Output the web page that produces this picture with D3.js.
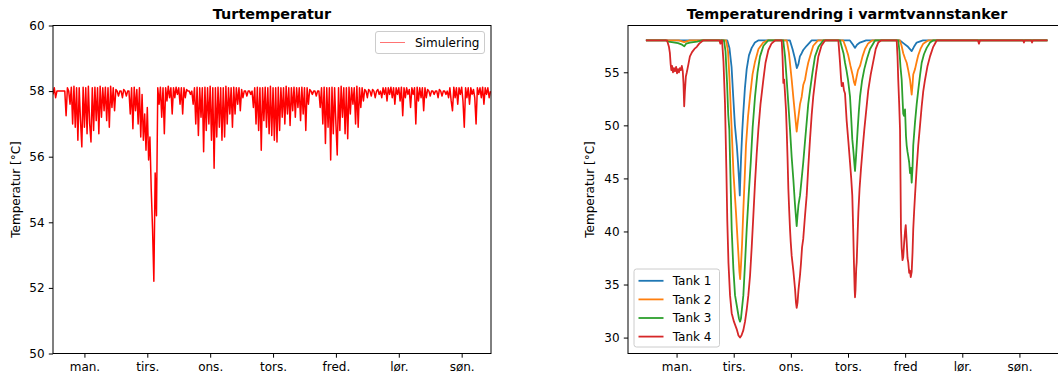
<!DOCTYPE html>
<html><head><meta charset="utf-8">
<script src="https://cdn.jsdelivr.net/npm/d3@7"></script>
<style>
html,body{margin:0;padding:0;background:#fff;}
svg{display:block;font-family:"DejaVu Sans",sans-serif;}
</style></head><body>
<svg id="chart" width="1058" height="379"></svg>
<script>
// Weekday ticks (hours from Monday 00:00, placed at noon)
const dayTicks = [12, 36, 60, 84, 108, 132, 156];
const dayLabelsLeft = ["man.", "tirs.", "ons.", "tors.", "fred.", "lør.", "søn."];
const dayLabelsRight = ["man.", "tirs.", "ons.", "tors.", "fred", "lør.", "søn."];
const turTicks = [50, 52, 54, 56, 58, 60];
const tankTicks = [30, 35, 40, 45, 50, 55];

// Supply temperature, one reading every half hour from hour 0
const turStep = 0.5;
const turTemp = [
  57.9,58.1,57.8,58.0,58.0,58.0,58.0,58.0,58.0,58.0,
  57.25,58.1,58.0,57.6,58.12,57.0,58.15,56.9,58.1,56.5,
  58.1,57.1,56.3,58.12,56.9,58.1,56.7,58.15,57.0,56.45,
  58.1,56.8,58.12,57.1,58.1,56.7,58.15,57.2,58.1,57.4,
  58.12,57.1,58.1,56.9,58.15,57.5,58.1,57.4,58.05,58.0,
  57.85,58.0,58.0,57.8,58.05,58.0,57.85,58.0,58.0,57.3,
  58.1,56.85,58.12,57.4,58.05,57.0,58.1,56.6,57.9,56.5,
  57.3,56.2,57.5,55.9,56.6,55.0,53.8,52.2,55.5,54.2,
  58.1,57.6,58.12,57.2,58.1,56.7,58.1,57.7,58.15,57.8,
  58.1,57.3,58.1,57.8,58.12,57.9,58.1,57.6,58.1,57.3,
  58.1,57.8,58.05,58.0,58.0,57.9,58.0,57.6,58.1,57.0,
  58.12,56.65,58.1,57.2,58.1,56.15,58.12,56.8,58.1,57.0,
  58.15,56.5,58.1,55.65,58.1,56.6,58.12,56.9,58.1,56.5,
  58.1,56.6,58.15,57.0,58.1,57.3,58.1,56.9,58.12,57.3,
  58.1,57.6,58.1,57.4,58.05,57.8,58.0,58.0,57.85,58.0,
  58.0,57.9,58.0,57.5,58.1,57.0,58.12,56.8,58.1,56.2,
  58.1,57.1,58.12,56.9,58.1,56.7,58.15,56.65,58.1,56.5,
  58.1,56.45,58.12,56.8,58.1,57.2,58.1,57.0,58.15,57.3,
  58.1,56.95,58.1,57.4,58.12,57.2,58.1,57.5,58.1,57.1,
  58.12,57.3,58.1,56.8,58.1,57.6,58.05,58.0,57.9,58.0,
  58.0,57.85,58.0,58.0,57.5,58.1,57.0,58.12,56.4,58.1,
  56.9,58.1,55.9,58.12,56.7,58.1,57.0,56.05,58.1,56.8,
  58.15,57.2,58.1,56.7,58.1,56.55,58.12,57.3,58.1,57.6,
  58.1,57.0,58.15,56.9,58.1,57.5,58.1,57.7,58.05,58.0,
  57.8,58.05,58.0,57.85,58.05,58.0,57.8,58.0,58.05,57.9,
  58.0,57.8,58.1,57.9,58.1,57.7,58.1,57.9,58.12,57.8,
  58.1,57.6,58.1,57.9,58.1,57.7,58.12,57.25,58.1,57.8,
  58.1,57.9,58.05,57.5,58.1,57.9,58.1,57.0,58.12,57.7,
  58.1,57.8,58.1,57.4,58.1,57.8,58.05,58.0,57.85,58.0,
  58.0,57.9,58.0,58.0,57.8,58.05,58.0,57.85,58.0,58.0,
  57.9,58.0,57.8,58.1,57.7,57.4,58.12,57.8,58.1,57.6,
  58.1,57.9,58.12,57.7,56.9,58.1,57.8,58.1,57.6,58.1,
  57.9,58.05,57.8,57.0,58.1,57.9,58.1,57.8,58.12,57.6,
  58.1,57.9,58.1,57.8,58.0
];

// Tank temperatures: [hour, °C]
const tank1 = [
  [-0.5,58],[33.3,58],[34.2,57.3],[35.1,55.5],[35.8,52.7],[36.5,50],[37.3,48.1],[37.8,46.5],[38.2,45],[38.55,43.4],[38.85,45.5],[39.1,47],[39.6,49.5],[40.0,51.1],[40.7,53.5],[41.45,55.3],[42.4,56.6],[43.55,57.3],[44.9,57.8],[46.3,58],
  [59.6,58],[60.7,57.2],[61.7,56.3],[62.5,55.4],[63.2,55.8],[63.8,56.5],[64.55,56.8],[65.2,57.1],[66.65,57.5],[68.75,58],
  [84.8,58],[86.1,57.6],[86.9,57.3],[87.8,57.6],[89.0,57.8],[91.6,58],
  [105.8,58],[107.5,57.7],[109.2,57.4],[110.75,57.0],[111.7,57.4],[112.85,57.8],[115.5,58],[167.4,58]
];
const tank2 = [
  [-0.5,58],[13.0,58],[15.2,57.85],[17.5,58],
  [32.8,58],[33.6,57],[34.2,54.5],[35.15,49.6],[35.9,45.5],[36.95,41.8],[37.8,38.5],[38.4,36.2],[38.7,35.5],[39.05,36.8],[39.5,38.8],[40.0,41.8],[40.6,45],[41.15,48.1],[42.0,50.8],[42.85,52.7],[43.9,54.8],[44.95,56],[46.4,57.2],[48.4,57.8],[50.0,58],
  [58.3,58],[59.2,56.8],[60.35,54.3],[61.1,52.5],[61.75,51],[62.45,49.4],[63.0,50.5],[63.85,52],[64.55,52.7],[65.2,53.8],[65.95,54.3],[66.65,55.2],[67.3,55.9],[68.45,56.8],[69.4,57.5],[71.4,58],
  [82.0,58],[83.15,57.3],[84.1,56.6],[85.05,55.6],[85.9,54.8],[86.5,54.1],[86.95,53.8],[87.55,54.5],[88.2,55.2],[89.05,55.6],[90.1,56.5],[91.15,57.2],[92.4,57.7],[94.1,58],
  [105.8,58],[106.5,57.5],[107.2,56.8],[107.95,56.3],[108.65,55.9],[109.3,55.2],[110.05,54.3],[110.45,53.5],[110.75,52.9],[111.1,53.8],[111.4,54.8],[112.15,55.3],[112.85,56],[113.5,56.6],[114.45,57.2],[115.6,57.7],[117.6,58],[167.4,58]
];
const tank3 = [
  [-0.5,58],[7.5,58],[8.5,57.9],[10.0,57.85],[12.6,57.75],[14.3,57.6],[15.25,57.45],[16.0,57.7],[17.6,57.8],[20.6,57.9],[22.7,58],
  [31.9,58],[32.55,57],[33.2,54],[33.7,51],[34.15,49.6],[34.65,45],[35.15,40.2],[35.85,36.5],[36.55,34],[37.6,32.6],[38.2,31.8],[38.65,31.5],[39.05,31.8],[39.5,32.8],[40.05,34],[40.75,37],[41.45,40.2],[42.3,43.5],[43.15,46.5],[43.95,49.8],[44.95,52.7],[46.0,55],[47.05,56.5],[48.5,57.5],[50.5,58],
  [56.8,58],[57.55,56.5],[58.25,54.3],[58.95,52],[59.65,49.6],[60.35,47],[61.05,44.9],[61.75,42.5],[62.45,40.5],[62.8,41.5],[63.2,42.5],[63.85,43.4],[64.55,45],[65.2,46.5],[65.95,48.5],[66.65,50.3],[67.3,52],[68.05,53.3],[69.1,55],[70.15,56.5],[71.6,57.4],[73.6,58],
  [80.65,58],[81.5,57.3],[82.1,56.8],[82.75,55.9],[83.35,55.2],[84.0,54.3],[84.85,52.7],[85.35,50.7],[85.8,48.7],[86.3,47.5],[86.75,46.2],[86.95,45.7],[87.35,47],[88.05,49.6],[88.55,51.3],[89.05,52.7],[89.9,54.2],[90.85,55.3],[92.0,56.3],[93.25,57.2],[95.35,58],
  [105.1,58],[105.6,57],[106.05,55.5],[106.55,54.3],[106.9,52.5],[107.2,51.1],[107.5,50.9],[107.95,51.5],[108.35,49],[108.65,48.1],[109.0,47.5],[109.3,47.1],[109.7,46.5],[110.05,45.5],[110.45,46],[110.75,44.6],[111.1,46],[111.4,48.1],[112.15,50.3],[112.85,52],[113.5,53.3],[114.25,54.7],[114.95,55.9],[115.9,56.7],[117.05,57.3],[118.45,57.8],[119.7,58],[167.4,58]
];
const tank4 = [
  [-0.5,58],[8.0,58],[8.8,57.4],[9.2,56.8],[9.5,55.8],[9.8,55.2],[10.1,55.6],[10.5,55.0],[10.9,55.4],[11.3,55.1],[11.8,55.5],[12.2,54.9],[12.6,55.3],[13.0,55.0],[13.4,55.4],[13.8,55.2],[14.2,55.6],[14.6,55.1],[14.9,54.0],[15.2,51.8],[15.5,53.2],[15.9,54.6],[16.3,55.0],[17.0,55.8],[17.6,56.5],[18.5,56.9],[19.5,57.2],[20.5,57.4],[21.5,57.7],[23.1,58],
  [30.0,58],[30.4,57.7],[30.8,58],
  [31.1,58],[31.7,56],[32.35,52],[32.9,46],[33.3,41],[33.8,37],[34.45,34],[35.15,32.3],[36.1,31.5],[37.25,30.8],[38.0,30.2],[38.65,30.0],[39.25,30.2],[40.05,30.7],[40.75,31.5],[41.45,32.6],[42.15,34.0],[42.85,35.8],[43.55,38.5],[44.25,41.5],[44.95,44.6],[45.65,47.3],[46.35,49.6],[47.25,52],[48.45,54.3],[49.35,55.9],[50.55,57.1],[51.85,57.7],[53.35,58],
  [56.15,58],[56.5,56.5],[56.85,54],[57.2,54.3],[57.55,53],[57.95,51.5],[58.25,49.6],[58.6,47],[58.95,44],[59.3,42],[59.65,40.2],[59.95,39],[60.35,37.7],[61.05,36.3],[61.75,34.6],[62.15,33.3],[62.45,32.8],[62.8,33.3],[63.2,34.5],[63.85,35.9],[64.25,37],[64.7,38.5],[65.2,39.3],[65.95,41.5],[66.65,43.4],[67.3,46],[68.05,48.7],[68.75,51],[69.4,52.7],[70.5,54.8],[71.55,56.5],[72.85,57.5],[74.35,58],
  [79.95,58],[80.3,57],[80.65,55.9],[81.05,54.5],[81.35,53.7],[81.9,54],[82.3,53.3],[82.75,53],[83.15,51.5],[83.45,50.4],[84.15,48.5],[84.85,46.5],[85.35,45],[85.8,43.4],[86.2,40],[86.5,37],[86.8,34.5],[86.95,33.8],[87.15,34.5],[87.45,36.5],[87.65,37.1],[88.0,39.5],[88.35,41.8],[88.85,44],[89.45,45.9],[90.15,47.8],[90.85,49.6],[91.7,51.5],[92.5,53.3],[93.55,54.8],[94.6,56],[95.65,57.2],[96.7,57.8],[97.85,58],
  [104.45,58],[104.8,56.5],[105.1,54.3],[105.5,52],[105.85,49.6],[106.05,45],[106.25,40.2],[106.55,38.4],[106.9,37.3],[107.2,37.6],[107.6,39],[107.95,40],[108.25,40.6],[108.65,39],[109.0,37.5],[109.3,37.1],[109.7,36.1],[110.05,36.3],[110.35,35.7],[110.75,36.2],[111.1,38],[111.4,40.2],[111.8,42],[112.15,43.4],[112.85,46],[113.5,48.1],[114.25,50],[114.95,51.8],[115.6,53.2],[116.35,54.3],[117.4,55.6],[118.45,56.5],[119.8,57.4],[121.25,58],
  [138.6,58],[139.0,57.7],[139.4,58],[157.6,58],[157.9,57.8],[158.2,58],[161.0,58],[161.3,57.8],[161.6,58],[167.4,58]
];
const tankSeries = [tank1, tank2, tank3, tank4];
const tankNames = ["Tank 1", "Tank 2", "Tank 3", "Tank 4"];
const tankColors = ["#1f77b4", "#ff7f0e", "#2ca02c", "#d62728"];

const svg = d3.select("#chart");
const FONT = "DejaVu Sans, sans-serif";
const TICK = 4.2;

function styleAxis(g) {
  g.select(".domain").remove();
  g.selectAll(".tick line").attr("stroke", "#000").attr("stroke-width", 1);
  g.selectAll(".tick text").attr("fill", "#000").attr("font-size", 12).attr("font-family", FONT);
}

function panel(id, x, y, yTicks, dayLabels, title, titleX, ylabelX) {
  const [x0, x1] = x.range();
  const [y0, y1] = y.range();
  svg.append("clipPath").attr("id", id)
    .append("rect").attr("x", x0).attr("y", y1).attr("width", x1 - x0).attr("height", y0 - y1);

  const gx = svg.append("g").attr("transform", `translate(0,${y0})`)
    .call(d3.axisBottom(x).tickValues(dayTicks).tickFormat((d, i) => dayLabels[i])
      .tickSize(TICK).tickSizeOuter(0).tickPadding(TICK));
  styleAxis(gx);
  gx.selectAll(".tick text").attr("dy", "0.76em");

  const gy = svg.append("g").attr("transform", `translate(${x0},0)`)
    .call(d3.axisLeft(y).tickValues(yTicks).tickFormat(d3.format("d"))
      .tickSize(TICK).tickSizeOuter(0).tickPadding(TICK));
  styleAxis(gy);

  svg.append("text").attr("x", titleX).attr("y", 18.5).attr("text-anchor", "middle")
    .attr("font-family", FONT).attr("font-size", 14.4).attr("font-weight", "bold")
    .attr("fill", "#000").text(title);

  svg.append("text").attr("transform", `translate(${ylabelX},${(y0 + y1) / 2}) rotate(-90)`)
    .attr("text-anchor", "middle").attr("font-family", FONT).attr("font-size", 12)
    .attr("fill", "#000").text("Temperatur [°C]");
}

function frame(x, y) {
  const [x0, x1] = x.range();
  const [y0, y1] = y.range();
  svg.append("rect").attr("x", x0).attr("y", y1).attr("width", x1 - x0).attr("height", y0 - y1)
    .attr("fill", "none").attr("stroke", "#000").attr("stroke-width", 1);
}

// ---- Left: Turtemperatur ----
const xL = d3.scaleLinear().domain([0, 167.2]).range([53, 491]);
const yL = d3.scaleLinear().domain([50, 60]).range([353.5, 25.5]);
panel("clipL", xL, yL, turTicks, dayLabelsLeft, "Turtemperatur", 272, 20);

const turLine = d3.line().x((d, i) => xL(i * turStep)).y(d => yL(d));
svg.append("path").datum(turTemp)
  .attr("clip-path", "url(#clipL)")
  .attr("fill", "none").attr("stroke", "#ff0000").attr("stroke-width", 1.5)
  .attr("stroke-linejoin", "round")
  .attr("d", turLine);
frame(xL, yL);

// legend
const legL = svg.append("g");
legL.append("rect").attr("x", 375.5).attr("y", 31.5).attr("width", 109).attr("height", 22)
  .attr("rx", 2.5).attr("fill", "#fff").attr("fill-opacity", 0.8)
  .attr("stroke", "#cccccc").attr("stroke-width", 1);
legL.append("line").attr("x1", 380).attr("x2", 405).attr("y1", 42.5).attr("y2", 42.5)
  .attr("stroke", "#ff0000").attr("stroke-opacity", 0.55).attr("stroke-width", 1);
legL.append("text").attr("x", 415).attr("y", 46.8).attr("font-family", FONT)
  .attr("font-size", 12).attr("fill", "#000").text("Simulering");

// ---- Right: Temperaturendring i varmtvannstanker ----
const xR = d3.scaleLinear().domain([-8.4, 176.4]).range([628, 1068]);
const yR = d3.scaleLinear().domain([28.5, 59.41]).range([353.5, 25.5]);
panel("clipR", xR, yR, tankTicks, dayLabelsRight, "Temperaturendring i varmtvannstanker", 847, 593.5);

const tankLine = d3.line().x(d => xR(d[0])).y(d => yR(d[1]));
svg.append("g").attr("clip-path", "url(#clipR)")
  .selectAll("path").data(tankSeries).join("path")
  .attr("fill", "none").attr("stroke", (d, i) => tankColors[i]).attr("stroke-width", 1.8)
  .attr("stroke-linejoin", "round").attr("stroke-linecap", "square")
  .attr("d", tankLine);
frame(xR, yR);

const legR = svg.append("g");
legR.append("rect").attr("x", 634).attr("y", 269).attr("width", 85.5).attr("height", 78)
  .attr("rx", 2.5).attr("fill", "#fff").attr("fill-opacity", 0.8)
  .attr("stroke", "#cccccc").attr("stroke-width", 1);
tankNames.forEach((name, i) => {
  const cy = 280.8 + i * 18.6;
  legR.append("line").attr("x1", 638.5).attr("x2", 663.5).attr("y1", cy).attr("y2", cy)
    .attr("stroke", tankColors[i]).attr("stroke-width", 1.8);
  legR.append("text").attr("x", 672.7).attr("y", cy + 4.3).attr("font-family", FONT)
    .attr("font-size", 12).attr("fill", "#000").text(name);
});
</script>
</body></html>
